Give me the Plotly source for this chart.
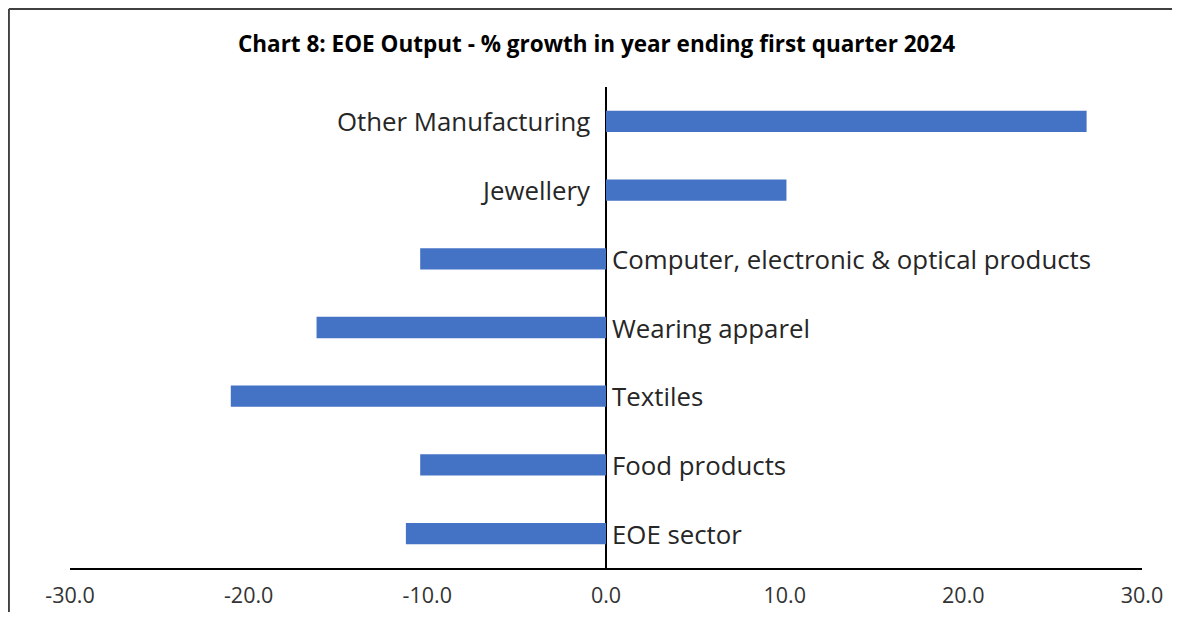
import plotly.graph_objects as go

# 数据：自下而上的类别顺序
categories = [
    "EOE sector",
    "Food products",
    "Textiles",
    "Wearing apparel",
    "Computer, electronic & optical products",
    "Jewellery",
    "Other Manufacturing",
]
growth = [-11.2, -10.4, -21.0, -16.2, -10.4, 10.1, 26.9]

tick_vals = [-30, -20, -10, 0, 10, 20, 30]
tick_text = ["-30.0", "-20.0", "-10.0", "0.0", "10.0", "20.0", "30.0"]

title_text = "Chart 8: EOE Output - % growth in year ending first quarter 2024"

BAR_COLOR = "#4472C4"
TEXT_COLOR = "#262626"
FRAME_COLOR = "#404040"

fig = go.Figure()

fig.add_trace(
    go.Bar(
        x=growth,
        y=categories,
        orientation="h",
        marker=dict(color=BAR_COLOR, line=dict(width=0)),
        hoverinfo="x+y",
    )
)

# 类别标签贴着零轴：正值在左侧，负值在右侧
for cat, val in zip(categories, growth):
    fig.add_annotation(
        x=0,
        y=cat,
        text=cat,
        showarrow=False,
        xanchor="right" if val > 0 else "left",
        xshift=-14 if val > 0 else 4,
        font=dict(family="Open Sans", size=25.8, color=TEXT_COLOR),
    )

# 外框只剩左边和上边（右、下被裁掉）
fig.add_shape(
    type="line", xref="paper", yref="paper",
    x0=-0.057, x1=1.028, y0=1.162, y1=1.162,
    line=dict(color=FRAME_COLOR, width=2),
)
fig.add_shape(
    type="line", xref="paper", yref="paper",
    x0=-0.057, x1=-0.057, y0=-0.1, y1=1.162,
    line=dict(color=FRAME_COLOR, width=2),
)

# 页面 body 四周各 8px 边距，画布缩小以免出现滚动条
fig.update_layout(
    width=1165,
    height=604,
    margin=dict(l=62, r=31, t=79, b=44),
    paper_bgcolor="white",
    plot_bgcolor="white",
    showlegend=False,
    bargap=0.69,
    title=dict(
        text="<b>" + title_text + "</b>",
        x=0.5052,
        xanchor="center",
        y=0.9404,
        yanchor="middle",
        font=dict(family="Open Sans", size=22.5, color="#000000"),
    ),
    font=dict(family="Open Sans", color=TEXT_COLOR),
)

fig.update_xaxes(
    range=[-30, 30],
    tickvals=tick_vals,
    ticktext=tick_text,
    showgrid=False,
    showline=True,
    linecolor="#000000",
    linewidth=1.5,
    ticks="",
    ticklabelstandoff=7,
    tickfont=dict(family="Open Sans", size=21.5, color="#333333"),
    zeroline=True,
    zerolinecolor="#000000",
    zerolinewidth=1.5,
    automargin=False,
    fixedrange=True,
)

fig.update_yaxes(
    showticklabels=False,
    showgrid=False,
    showline=False,
    ticks="",
    automargin=False,
    fixedrange=True,
)

fig.write_html("out.html")
